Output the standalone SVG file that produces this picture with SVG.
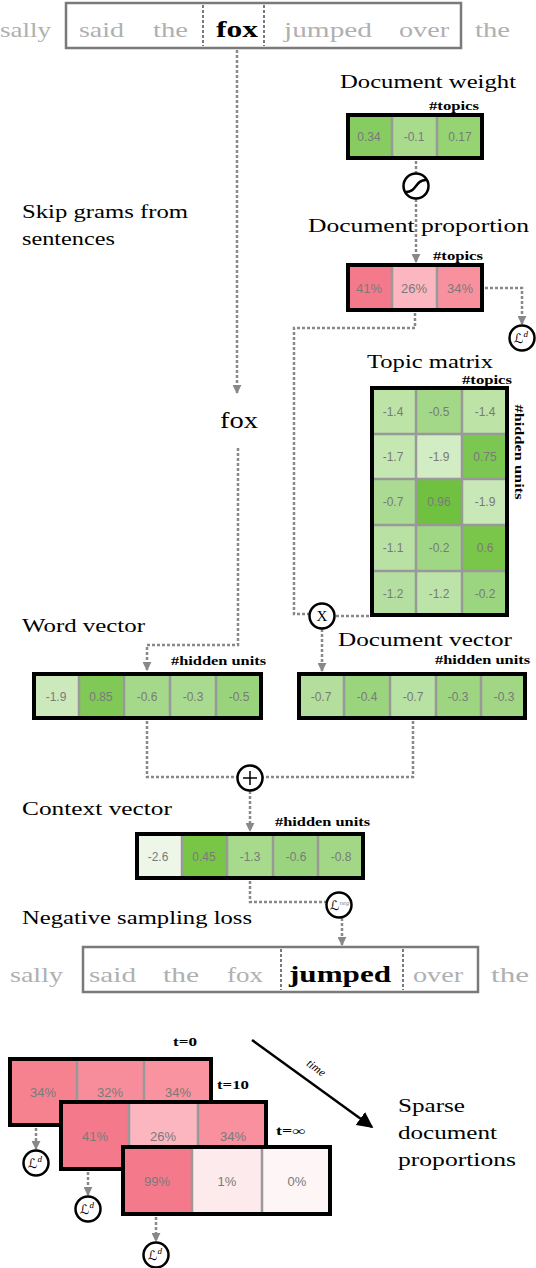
<svg xmlns="http://www.w3.org/2000/svg" width="536" height="1268" viewBox="0 0 536 1268">
<style>
.bg{fill:#ffffff}
.title{font-family:"Liberation Serif","DejaVu Serif",serif;font-size:18px;fill:#000}
.lbl{font-family:"Liberation Serif","DejaVu Serif",serif;font-size:12px;font-weight:bold;fill:#000}
.gw{font-family:"Liberation Serif","DejaVu Serif",serif;font-size:22px;fill:#b0b0b0}
.bw{font-family:"Liberation Serif","DejaVu Serif",serif;font-size:23px;font-weight:bold;fill:#000}
.num{font-family:"Liberation Sans","DejaVu Sans",sans-serif;font-size:12px;fill:#7a7a7a;text-anchor:middle}
.pct{font-family:"Liberation Sans","DejaVu Sans",sans-serif;font-size:13px;fill:#7a7a7a;text-anchor:middle}
.box{fill:none;stroke:#000;stroke-width:4}
.div{stroke:#999;stroke-width:2.5}
.sent{fill:none;stroke:#7a7a7a;stroke-width:2.5}
.sdiv{stroke:#7a7a7a;stroke-width:2;stroke-dasharray:3 2}
.con{fill:none;stroke:#888;stroke-width:2.5;stroke-dasharray:3 2}
.op{fill:#fff;stroke:#000;stroke-width:2.5}
.opt{font-family:"Liberation Serif","DejaVu Serif",serif;font-size:15px;fill:#000;text-anchor:middle}
.loss{font-family:"DejaVu Sans","Noto Sans",sans-serif;font-size:13px;fill:#000}
.sup{font-family:"Liberation Serif","DejaVu Serif",serif;font-style:italic}
</style>
<defs>
<marker id="ah" viewBox="0 0 10 10" refX="9" refY="5" markerWidth="9" markerHeight="9" markerUnits="userSpaceOnUse" orient="auto">
<path d="M0,0 L10,5 L0,10 z" fill="#888"/>
</marker>
<marker id="ahb" viewBox="0 0 10 10" refX="9" refY="5" markerWidth="16" markerHeight="16" markerUnits="userSpaceOnUse" orient="auto">
<path d="M0,0 L10,5 L0,10 z" fill="#000"/>
</marker>
</defs>
<rect class="bg" x="0" y="0" width="536" height="1268"/>

<g id="connectors">
<path class="con" d="M237,50 V393" marker-end="url(#ah)"/>
<path class="con" d="M238,448 V645 H147 V670" marker-end="url(#ah)"/>
<path class="con" d="M416,161 V173"/>
<path class="con" d="M416,199 V262" marker-end="url(#ah)"/>
<path class="con" d="M485,288 H522 V324" marker-end="url(#ah)"/>
<path class="con" d="M415,313 V328 H294 V614 H309"/>
<path class="con" d="M369,616 H335"/>
<path class="con" d="M322,629 V671" marker-end="url(#ah)"/>
<path class="con" d="M147,721 V777 H237"/>
<path class="con" d="M413,721 V777 H263"/>
<path class="con" d="M250,791 V831" marker-end="url(#ah)"/>
<path class="con" d="M250,881 V902 H327"/>
<path class="con" d="M342,918 V945" marker-end="url(#ah)"/>
<path class="con" d="M36,1128 V1149" marker-end="url(#ah)"/>
<path class="con" d="M88,1172 V1195" marker-end="url(#ah)"/>
<path class="con" d="M156,1217 V1241" marker-end="url(#ah)"/>
<path d="M252,1040 L372,1127" stroke="#000" stroke-width="2.5" fill="none" marker-end="url(#ahb)"/>
<text font-family="Liberation Serif, DejaVu Serif, serif" font-style="italic" font-size="12" text-anchor="middle" transform="translate(314,1071) rotate(36)">time</text>
</g>

<g id="sentence-top">
<rect class="sent" x="66" y="3" width="395" height="45"/>
<line class="sdiv" x1="203" y1="5" x2="203" y2="46"/>
<line class="sdiv" x1="264" y1="5" x2="264" y2="46"/>
<text class="gw" x="0" y="37" textLength="51" lengthAdjust="spacingAndGlyphs">sally</text>
<text class="gw" x="79" y="37" textLength="45" lengthAdjust="spacingAndGlyphs">said</text>
<text class="gw" x="153" y="37" textLength="35" lengthAdjust="spacingAndGlyphs">the</text>
<text class="bw" x="216" y="37" textLength="42" lengthAdjust="spacingAndGlyphs">fox</text>
<text class="gw" x="284" y="37" textLength="88" lengthAdjust="spacingAndGlyphs">jumped</text>
<text class="gw" x="399" y="37" textLength="50" lengthAdjust="spacingAndGlyphs">over</text>
<text class="gw" x="475" y="37" textLength="35" lengthAdjust="spacingAndGlyphs">the</text>
</g>

<g id="skipgram-label">
<text class="title" x="22" y="218" textLength="166" lengthAdjust="spacingAndGlyphs">Skip grams from</text>
<text class="title" x="22" y="245" textLength="93" lengthAdjust="spacingAndGlyphs">sentences</text>
</g>

<g id="fox-word">
<text x="220" y="428" font-family="Liberation Serif, DejaVu Serif, serif" font-size="24" textLength="38" lengthAdjust="spacingAndGlyphs" fill="#000">fox</text>
</g>

<g id="document-weight">
<text class="title" x="340" y="88" textLength="176" lengthAdjust="spacingAndGlyphs">Document weight</text>
<text class="lbl" x="429" y="110" textLength="50" lengthAdjust="spacingAndGlyphs">#topics</text>
<rect x="346" y="113" width="46" height="47" fill="#86cc60"/>
<rect x="392" y="113" width="45" height="47" fill="#a8db8c"/>
<rect x="437" y="113" width="47" height="47" fill="#95d373"/>
<line class="div" x1="392" y1="114" x2="392" y2="159"/>
<line class="div" x1="437" y1="114" x2="437" y2="159"/>
<rect class="box" x="348" y="115" width="134" height="43"/>
<text class="num" x="369" y="141">0.34</text>
<text class="num" x="414" y="141">-0.1</text>
<text class="num" x="460" y="141">0.17</text>
</g>

<g id="sigmoid">
<circle class="op" cx="416" cy="186" r="12.5"/>
<path d="M406,192 C417,192 415,180 426,180" fill="none" stroke="#000" stroke-width="2.5"/>
</g>

<g id="document-proportion">
<text class="title" x="308" y="232" textLength="221" lengthAdjust="spacingAndGlyphs">Document proportion</text>
<text class="lbl" x="433" y="260" textLength="50" lengthAdjust="spacingAndGlyphs">#topics</text>
<rect x="346" y="263" width="46" height="49" fill="#f47a8b"/>
<rect x="392" y="263" width="45" height="49" fill="#fbb6c0"/>
<rect x="437" y="263" width="47" height="49" fill="#f8909e"/>
<line class="div" x1="392" y1="264" x2="392" y2="311"/>
<line class="div" x1="437" y1="264" x2="437" y2="311"/>
<rect class="box" x="348" y="265" width="134" height="45"/>
<text class="pct" x="369" y="293">41%</text>
<text class="pct" x="414" y="293">26%</text>
<text class="pct" x="460" y="293">34%</text>
</g>

<g id="loss-doc-top">
<circle class="op" cx="522" cy="338" r="12.5"/>
<text class="loss" x="514" y="343">ℒ<tspan class="sup" font-size="9" dy="-6">d</tspan></text>
</g>

<g id="topic-matrix">
<text class="title" x="367" y="368" textLength="126" lengthAdjust="spacingAndGlyphs">Topic matrix</text>
<text class="lbl" x="462" y="384" textLength="50" lengthAdjust="spacingAndGlyphs">#topics</text>
<text class="lbl" x="515" y="452" text-anchor="middle" transform="rotate(90 515 452)" textLength="95" lengthAdjust="spacingAndGlyphs">#hidden units</text>
<rect x="370" y="386" width="46" height="48" fill="#bde3a7"/>
<rect x="416" y="386" width="46" height="48" fill="#a3d888"/>
<rect x="462" y="386" width="47" height="48" fill="#bde3a7"/>
<rect x="370" y="434" width="46" height="45" fill="#c5e7b2"/>
<rect x="416" y="434" width="46" height="45" fill="#d2ecc3"/>
<rect x="462" y="434" width="47" height="45" fill="#7bc751"/>
<rect x="370" y="479" width="46" height="46" fill="#abdb92"/>
<rect x="416" y="479" width="46" height="46" fill="#6fc13f"/>
<rect x="462" y="479" width="47" height="46" fill="#c8e8b7"/>
<rect x="370" y="525" width="46" height="46" fill="#b8e1a3"/>
<rect x="416" y="525" width="46" height="46" fill="#a0d785"/>
<rect x="462" y="525" width="47" height="46" fill="#79c64a"/>
<rect x="370" y="571" width="46" height="46" fill="#b4dfa0"/>
<rect x="416" y="571" width="46" height="46" fill="#bce3a8"/>
<rect x="462" y="571" width="47" height="46" fill="#9cd580"/>
<line class="div" x1="416" y1="387" x2="416" y2="616"/>
<line class="div" x1="462" y1="387" x2="462" y2="616"/>
<line class="div" x1="371" y1="434" x2="508" y2="434"/>
<line class="div" x1="371" y1="479" x2="508" y2="479"/>
<line class="div" x1="371" y1="525" x2="508" y2="525"/>
<line class="div" x1="371" y1="571" x2="508" y2="571"/>
<rect class="box" x="372" y="388" width="135" height="227"/>
<text class="num" x="393" y="416">-1.4</text>
<text class="num" x="439" y="416">-0.5</text>
<text class="num" x="485" y="416">-1.4</text>
<text class="num" x="393" y="461">-1.7</text>
<text class="num" x="439" y="461">-1.9</text>
<text class="num" x="485" y="461">0.75</text>
<text class="num" x="393" y="506">-0.7</text>
<text class="num" x="439" y="506">0.96</text>
<text class="num" x="485" y="506">-1.9</text>
<text class="num" x="393" y="552">-1.1</text>
<text class="num" x="439" y="552">-0.2</text>
<text class="num" x="485" y="552">0.6</text>
<text class="num" x="393" y="598">-1.2</text>
<text class="num" x="439" y="598">-1.2</text>
<text class="num" x="485" y="598">-0.2</text>
</g>

<g id="multiply">
<circle class="op" cx="322" cy="616" r="12.5"/>
<text class="opt" x="322" y="621">X</text>
</g>

<g id="word-vector">
<text class="title" x="22" y="632" textLength="123" lengthAdjust="spacingAndGlyphs">Word vector</text>
<text class="lbl" x="171" y="665" textLength="95" lengthAdjust="spacingAndGlyphs">#hidden units</text>
<rect x="32" y="672" width="47" height="48" fill="#cce9bb"/>
<rect x="79" y="672" width="45" height="48" fill="#80c956"/>
<rect x="124" y="672" width="46" height="48" fill="#a4d88a"/>
<rect x="170" y="672" width="46" height="48" fill="#a8da8f"/>
<rect x="216" y="672" width="47" height="48" fill="#99d37b"/>
<line class="div" x1="79" y1="673" x2="79" y2="719"/>
<line class="div" x1="124" y1="673" x2="124" y2="719"/>
<line class="div" x1="170" y1="673" x2="170" y2="719"/>
<line class="div" x1="216" y1="673" x2="216" y2="719"/>
<rect class="box" x="34" y="674" width="227" height="44"/>
<text class="num" x="56" y="701">-1.9</text>
<text class="num" x="101" y="701">0.85</text>
<text class="num" x="147" y="701">-0.6</text>
<text class="num" x="193" y="701">-0.3</text>
<text class="num" x="239" y="701">-0.5</text>
</g>

<g id="document-vector">
<text class="title" x="338" y="646" textLength="174" lengthAdjust="spacingAndGlyphs">Document vector</text>
<text class="lbl" x="435" y="664" textLength="95" lengthAdjust="spacingAndGlyphs">#hidden units</text>
<rect x="297" y="672" width="47" height="48" fill="#b3de9c"/>
<rect x="344" y="672" width="46" height="48" fill="#9ad47d"/>
<rect x="390" y="672" width="46" height="48" fill="#b8e1a4"/>
<rect x="436" y="672" width="45" height="48" fill="#9dd581"/>
<rect x="481" y="672" width="46" height="48" fill="#a0d684"/>
<line class="div" x1="344" y1="673" x2="344" y2="719"/>
<line class="div" x1="390" y1="673" x2="390" y2="719"/>
<line class="div" x1="436" y1="673" x2="436" y2="719"/>
<line class="div" x1="481" y1="673" x2="481" y2="719"/>
<rect class="box" x="299" y="674" width="226" height="44"/>
<text class="num" x="321" y="701">-0.7</text>
<text class="num" x="367" y="701">-0.4</text>
<text class="num" x="413" y="701">-0.7</text>
<text class="num" x="458" y="701">-0.3</text>
<text class="num" x="504" y="701">-0.3</text>
</g>

<g id="plus">
<circle class="op" cx="250" cy="778" r="12.5"/>
<path d="M243,778 H257 M250,771 V785" stroke="#000" stroke-width="1.5"/>
</g>

<g id="context-vector">
<text class="title" x="22" y="815" textLength="150" lengthAdjust="spacingAndGlyphs">Context vector</text>
<text class="lbl" x="275" y="826" textLength="95" lengthAdjust="spacingAndGlyphs">#hidden units</text>
<rect x="135" y="832" width="47" height="48" fill="#eef6e8"/>
<rect x="182" y="832" width="45" height="48" fill="#79c646"/>
<rect x="227" y="832" width="46" height="48" fill="#a7da8d"/>
<rect x="273" y="832" width="45" height="48" fill="#9bd47e"/>
<rect x="318" y="832" width="47" height="48" fill="#a2d787"/>
<line class="div" x1="182" y1="833" x2="182" y2="879"/>
<line class="div" x1="227" y1="833" x2="227" y2="879"/>
<line class="div" x1="273" y1="833" x2="273" y2="879"/>
<line class="div" x1="318" y1="833" x2="318" y2="879"/>
<rect class="box" x="137" y="834" width="226" height="44"/>
<text class="num" x="158" y="861">-2.6</text>
<text class="num" x="204" y="861">0.45</text>
<text class="num" x="250" y="861">-1.3</text>
<text class="num" x="296" y="861">-0.6</text>
<text class="num" x="341" y="861">-0.8</text>
</g>

<g id="loss-neg">
<circle class="op" cx="339" cy="905" r="12.5"/>
<text class="loss" x="330" y="910" font-size="11" fill="#555">ℒ<tspan class="sup" font-size="7" dy="-5" fill="#888">neg</tspan></text>
</g>

<g id="negative-sampling">
<text class="title" x="22" y="924" textLength="230" lengthAdjust="spacingAndGlyphs">Negative sampling loss</text>
<rect class="sent" x="83" y="947" width="395" height="45"/>
<line class="sdiv" x1="281" y1="949" x2="281" y2="990"/>
<line class="sdiv" x1="403" y1="949" x2="403" y2="990"/>
<text class="gw" x="10" y="982" textLength="53" lengthAdjust="spacingAndGlyphs">sally</text>
<text class="gw" x="89" y="982" textLength="47" lengthAdjust="spacingAndGlyphs">said</text>
<text class="gw" x="163" y="982" textLength="36" lengthAdjust="spacingAndGlyphs">the</text>
<text class="gw" x="227" y="982" textLength="36" lengthAdjust="spacingAndGlyphs">fox</text>
<text class="bw" x="289" y="982" textLength="102" lengthAdjust="spacingAndGlyphs">jumped</text>
<text class="gw" x="413" y="982" textLength="50" lengthAdjust="spacingAndGlyphs">over</text>
<text class="gw" x="491" y="982" textLength="38" lengthAdjust="spacingAndGlyphs">the</text>
</g>

<g id="stack-t0">
<text class="lbl" x="173" y="1046" textLength="24" lengthAdjust="spacingAndGlyphs">t=0</text>
<rect x="8" y="1057" width="69" height="70" fill="#f6828f"/>
<rect x="77" y="1057" width="67" height="70" fill="#f78d9b"/>
<rect x="144" y="1057" width="69" height="70" fill="#f8939f"/>
<line class="div" x1="77" y1="1058" x2="77" y2="1126"/>
<line class="div" x1="144" y1="1058" x2="144" y2="1126"/>
<rect class="box" x="10" y="1059" width="201" height="66"/>
<text class="pct" x="43" y="1097">34%</text>
<text class="pct" x="110" y="1097">32%</text>
<text class="pct" x="178" y="1097">34%</text>
</g>
<g id="loss-t0">
<circle class="op" cx="36" cy="1163" r="12.5"/>
<text class="loss" x="28" y="1168">ℒ<tspan class="sup" font-size="9" dy="-6">d</tspan></text>
</g>

<g id="stack-t10">
<text class="lbl" x="217" y="1089" textLength="32" lengthAdjust="spacingAndGlyphs">t=10</text>
<rect x="59" y="1100" width="70" height="71" fill="#f47a8b"/>
<rect x="129" y="1100" width="69" height="71" fill="#fbb6c0"/>
<rect x="198" y="1100" width="70" height="71" fill="#f8909e"/>
<line class="div" x1="129" y1="1101" x2="129" y2="1170"/>
<line class="div" x1="198" y1="1101" x2="198" y2="1170"/>
<rect class="box" x="61" y="1102" width="205" height="67"/>
<text class="pct" x="95" y="1141">41%</text>
<text class="pct" x="163" y="1141">26%</text>
<text class="pct" x="233" y="1141">34%</text>
</g>
<g id="loss-t10">
<circle class="op" cx="88" cy="1209" r="12.5"/>
<text class="loss" x="80" y="1214">ℒ<tspan class="sup" font-size="9" dy="-6">d</tspan></text>
</g>

<g id="stack-tinf">
<text class="lbl" x="276" y="1135" textLength="29" lengthAdjust="spacingAndGlyphs">t=∞</text>
<rect x="121" y="1145" width="71" height="71" fill="#f47a8b"/>
<rect x="192" y="1145" width="70" height="71" fill="#fdeaec"/>
<rect x="262" y="1145" width="70" height="71" fill="#fdf5f6"/>
<line class="div" x1="192" y1="1146" x2="192" y2="1215"/>
<line class="div" x1="262" y1="1146" x2="262" y2="1215"/>
<rect class="box" x="123" y="1147" width="207" height="67"/>
<text class="pct" x="157" y="1186">99%</text>
<text class="pct" x="227" y="1186">1%</text>
<text class="pct" x="297" y="1186">0%</text>
</g>
<g id="loss-tinf">
<circle class="op" cx="156" cy="1255" r="12.5"/>
<text class="loss" x="148" y="1260">ℒ<tspan class="sup" font-size="9" dy="-6">d</tspan></text>
</g>

<g id="sparse-label">
<text class="title" x="398" y="1112" textLength="67" lengthAdjust="spacingAndGlyphs">Sparse</text>
<text class="title" x="398" y="1139" textLength="99" lengthAdjust="spacingAndGlyphs">document</text>
<text class="title" x="398" y="1166" textLength="118" lengthAdjust="spacingAndGlyphs">proportions</text>
</g>
</svg>
